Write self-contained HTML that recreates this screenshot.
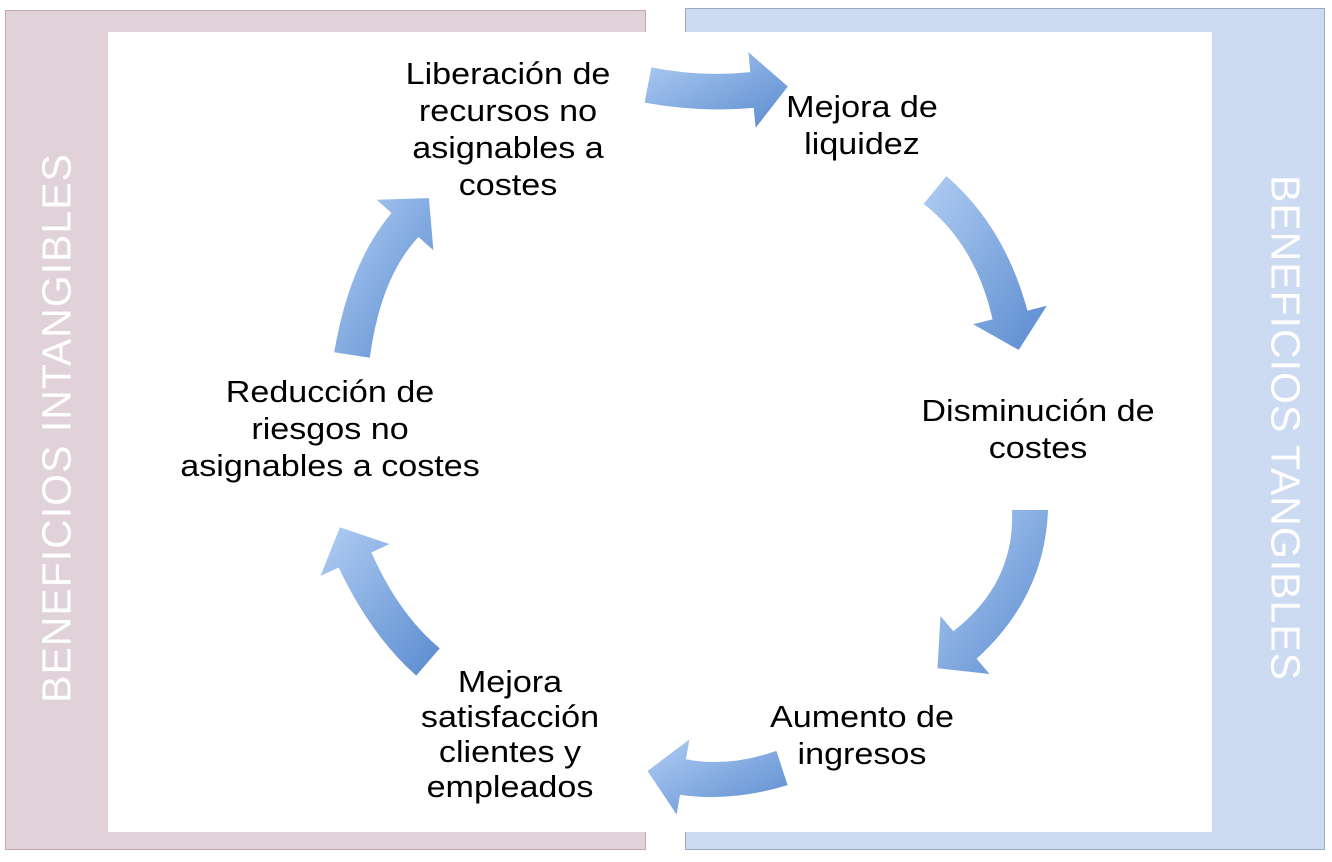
<!DOCTYPE html>
<html><head><meta charset="utf-8">
<style>
html,body{margin:0;padding:0;background:#fff;}
body{width:1332px;height:862px;position:relative;overflow:hidden;font-family:"Liberation Sans",Arial,sans-serif;}
.p{position:absolute;box-sizing:border-box;}
.t{position:absolute;font-size:31px;line-height:37px;color:#000;text-align:center;white-space:nowrap;transform:translateX(-50%) scaleX(1.1);}
.v{position:absolute;color:#fff;font-size:41px;white-space:nowrap;letter-spacing:1px;}
</style></head><body>
<div class="p" style="left:5px;top:10px;width:641px;height:840px;background:#e1d1d8;border:1px solid #c4a8b3;"></div>
<div class="p" style="left:685px;top:8px;width:640px;height:842px;background:#ccdaf2;border:1px solid #98a9c6;"></div>
<div class="p" style="left:108px;top:32px;width:1104px;height:800px;background:#fff;"></div>
<div class="v" style="left:57px;top:428px;transform:translate(-50%,-50%) rotate(-90deg);">BENEFICIOS INTANGIBLES</div>
<div class="v" style="left:1285px;top:428px;transform:translate(-50%,-50%) rotate(90deg);">BENEFICIOS TANGIBLES</div>
<svg id="s" width="1332" height="862" style="position:absolute;left:0;top:0;">
<defs><linearGradient id="g" x1="0" y1="0" x2="1" y2="1"><stop offset="0" stop-color="#b0cdf3"/><stop offset="1" stop-color="#5a8bcf"/></linearGradient></defs>
</svg>
<div class="t" style="left:508px;top:55px;">Liberación de<br>recursos no<br>asignables a<br>costes</div>
<div class="t" style="left:862px;top:88px;">Mejora de<br>liquidez</div>
<div class="t" style="left:1038px;top:392px;">Disminución de<br>costes</div>
<div class="t" style="left:862px;top:698px;">Aumento de<br>ingresos</div>
<div class="t" style="left:510px;top:664px;line-height:35px;">Mejora<br>satisfacción<br>clientes y<br>empleados</div>
<div class="t" style="left:330px;top:373px;">Reducción de<br>riesgos no<br>asignables a costes</div>
<script>
var s=document.getElementById('s');
var A=[[648,85,700,95,752,90],[935,190,990,235,1010,315],[1030,510,1030,590,965,645],[782,768,730,785,683,777],[428,662,385,625,355,560],[352,355,365,270,405,225]];
A.forEach(function(a){
 var sx=a[0],sy=a[1],cx=a[2],cy=a[3],ex=a[4],ey=a[5];
 var dx=ex-cx,dy=ey-cy,l=Math.hypot(dx,dy);dx/=l;dy/=l;
 var px=-dy,py=dx,w=18,h=38,L=36;
 var sdx=cx-sx,sdy=cy-sy,sl=Math.hypot(sdx,sdy);sdx/=sl;sdy/=sl;var spx=-sdy,spy=sdx;
 var mx=-(dy+sdy)/2,my=(dx+sdx)/2;
 var d='M'+(sx+spx*w)+','+(sy+spy*w)+' Q'+(cx+mx*w)+','+(cy+my*w)+' '+(ex+px*w)+','+(ey+py*w)+
 ' L'+(ex+px*h)+','+(ey+py*h)+' L'+(ex+dx*L)+','+(ey+dy*L)+' L'+(ex-px*h)+','+(ey-py*h)+
 ' L'+(ex-px*w)+','+(ey-py*w)+' Q'+(cx-mx*w)+','+(cy-my*w)+' '+(sx-spx*w)+','+(sy-spy*w)+' Z';
 var p=document.createElementNS('http://www.w3.org/2000/svg','path');
 p.setAttribute('d',d);p.setAttribute('fill','url(#g)');s.appendChild(p);
});
</script>
</body></html>
